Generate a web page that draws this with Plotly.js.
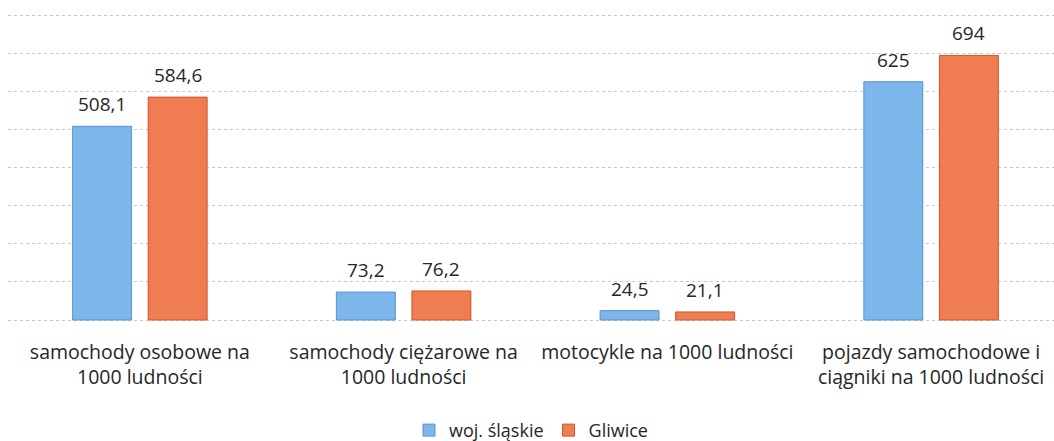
<!DOCTYPE html>
<html>
<head>
<meta charset="utf-8">
<script src="https://cdn.plot.ly/plotly-3.0.1.min.js"></script>
<style>html,body{margin:0;padding:0;background:#fff;overflow:hidden;}#chart{width:1054px;height:441px;}</style>
</head>
<body>
<div id="chart"></div>
<script>
var categories = [
  "samochody osobowe na<br>1000 ludności",
  "samochody ciężarowe na<br>1000 ludności",
  "motocykle na 1000 ludności",
  "pojazdy samochodowe i<br>ciągniki na 1000 ludności"
];
var seriesNames = ["woj. śląskie", "Gliwice"];
var slaskie = [508.1, 73.2, 24.5, 625];
var gliwice = [584.6, 76.2, 21.1, 694];
var yTicks = [0, 100, 200, 300, 400, 500, 600, 700, 800];

function fmt(v) { return String(v).replace('.', ','); }

var FONT = "Open Sans, Calibri, sans-serif";
var TXT = "#262626";

var traces = [
  {
    type: 'bar', name: seriesNames[0], x: categories, y: slaskie,
    marker: {color: '#7db6ea', line: {color: '#5c92c9', width: 1}},
    hoverinfo: 'y'
  },
  {
    type: 'bar', name: seriesNames[1], x: categories, y: gliwice,
    marker: {color: '#f07d52', line: {color: '#c9562e', width: 1}},
    hoverinfo: 'y'
  }
];

var annotations = [];
[slaskie, gliwice].forEach(function (arr, si) {
  arr.forEach(function (v, i) {
    annotations.push({
      x: i, y: v, xref: 'x', yref: 'y',
      text: fmt(v), showarrow: false,
      xanchor: 'center', yanchor: 'bottom',
      xshift: si === 0 ? -37.75 : 37.75, yshift: 7,
      font: {family: FONT, size: 19, color: TXT}
    });
  });
});

var layout = {
  width: 1054, height: 441,
  margin: {l: 8, r: 0, t: 11, b: 119, autoexpand: false},
  paper_bgcolor: '#ffffff', plot_bgcolor: '#ffffff',
  barmode: 'group', bargap: 0.427, bargroupgap: 0.22,
  showlegend: true,
  legend: {
    orientation: 'h', x: 0.5, xanchor: 'center',
    yref: 'container', y: 0.024, yanchor: 'middle',
    font: {family: FONT, size: 18, color: TXT}, traceorder: 'normal',
    itemwidth: 30, bgcolor: 'rgba(0,0,0,0)'
  },
  xaxis: {
    type: 'category', range: [-0.5, 3.466], automargin: false,
    showgrid: false, zeroline: false, showline: false, ticks: '',
    tickfont: {family: FONT, size: 19.5, color: TXT},
    ticklabelstandoff: 16, fixedrange: true
  },
  yaxis: {
    range: [-5.25, 810.5], tickvals: yTicks, showticklabels: false, automargin: false,
    showgrid: true, gridcolor: '#c8c8c8', gridwidth: 1, griddash: 'dot',
    zeroline: false, showline: false, fixedrange: true
  },
  annotations: annotations,
  font: {family: FONT, color: TXT}
};

Plotly.newPlot('chart', traces, layout, {displayModeBar: false, staticPlot: true});
</script>
</body>
</html>
